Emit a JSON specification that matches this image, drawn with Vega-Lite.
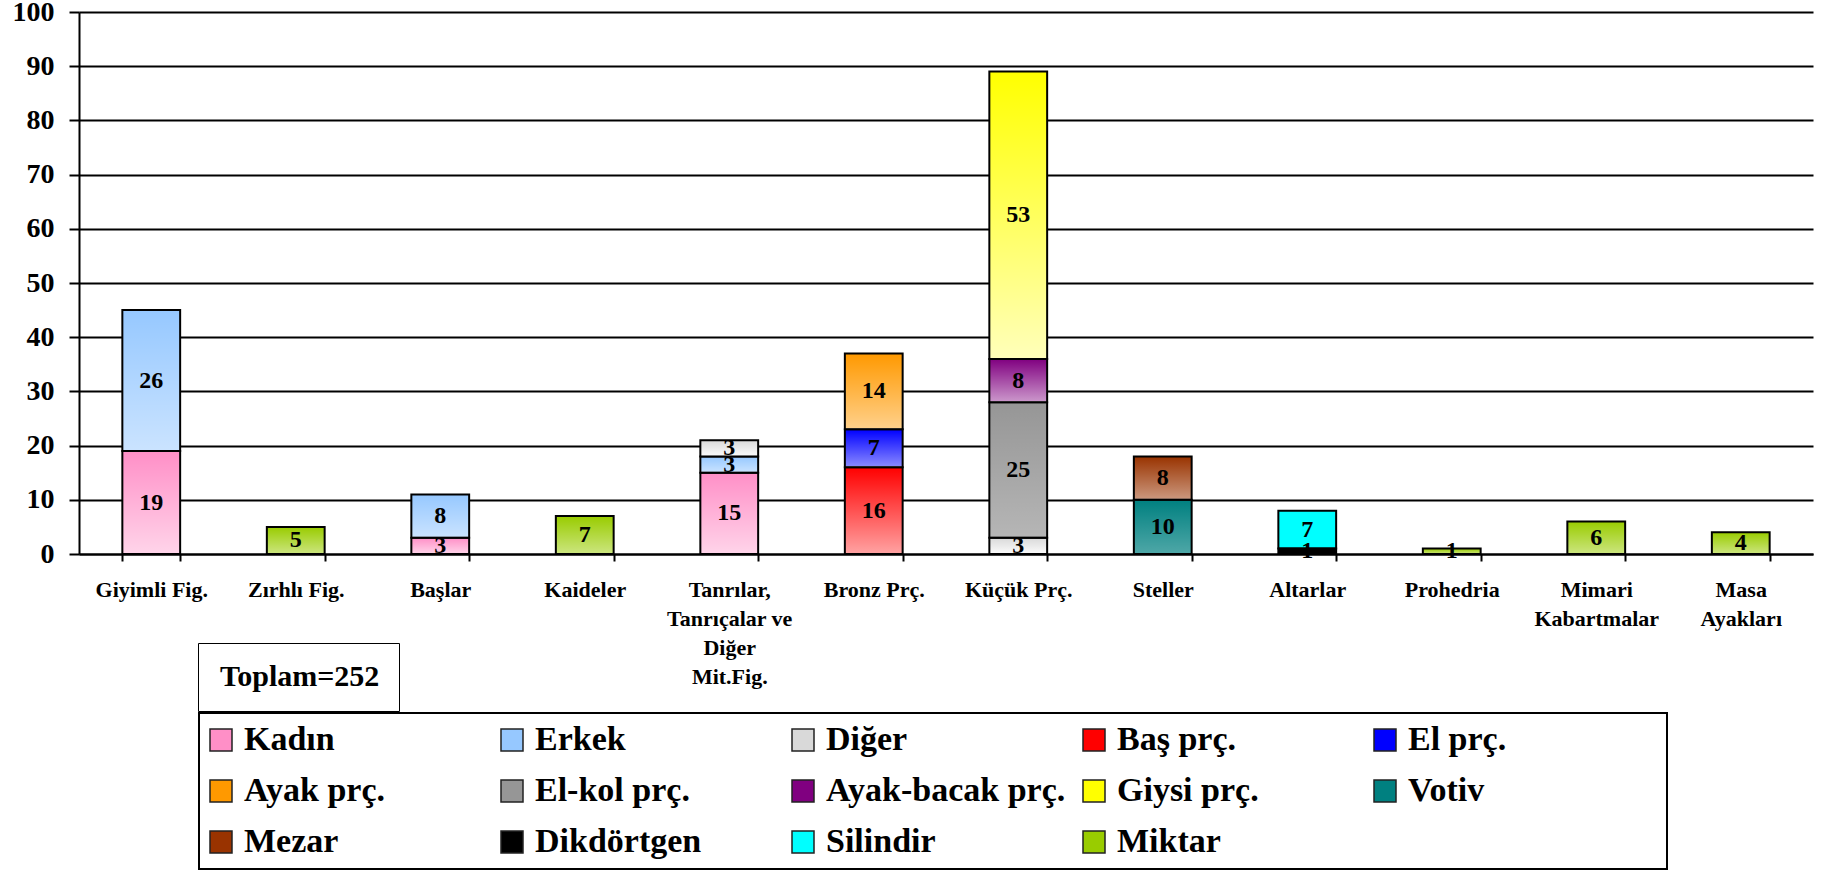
{
  "$schema": "https://vega.github.io/schema/vega-lite/v6.json",
  "width": 1734,
  "height": 542,
  "autosize": {"type": "none"},
  "padding": {"left": 79, "top": 12, "right": 27, "bottom": 318},
  "background": "white",
  "config": {"font": "Liberation Serif", "view": {"stroke": null}},
  "layer": [
    {
      "data": {
        "values": [
          {"cat": "Giyimli Fig.", "seg": "Kadın", "n": 19},
          {"cat": "Giyimli Fig.", "seg": "Erkek", "n": 26},
          {"cat": "Zırhlı Fig.", "seg": "Miktar", "n": 5},
          {"cat": "Başlar", "seg": "Kadın", "n": 3},
          {"cat": "Başlar", "seg": "Erkek", "n": 8},
          {"cat": "Kaideler", "seg": "Miktar", "n": 7},
          {"cat": "Tanrılar, Tanrıçalar ve Diğer Mit.Fig.", "seg": "Kadın", "n": 15},
          {"cat": "Tanrılar, Tanrıçalar ve Diğer Mit.Fig.", "seg": "Erkek", "n": 3},
          {"cat": "Tanrılar, Tanrıçalar ve Diğer Mit.Fig.", "seg": "Diğer", "n": 3},
          {"cat": "Bronz Prç.", "seg": "Baş prç.", "n": 16},
          {"cat": "Bronz Prç.", "seg": "El prç.", "n": 7},
          {"cat": "Bronz Prç.", "seg": "Ayak prç.", "n": 14},
          {"cat": "Küçük Prç.", "seg": "Diğer", "n": 3},
          {"cat": "Küçük Prç.", "seg": "El-kol prç.", "n": 25},
          {"cat": "Küçük Prç.", "seg": "Ayak-bacak prç.", "n": 8},
          {"cat": "Küçük Prç.", "seg": "Giysi prç.", "n": 53},
          {"cat": "Steller", "seg": "Votiv", "n": 10},
          {"cat": "Steller", "seg": "Mezar", "n": 8},
          {"cat": "Altarlar", "seg": "Dikdörtgen", "n": 1},
          {"cat": "Altarlar", "seg": "Silindir", "n": 7},
          {"cat": "Prohedria", "seg": "Miktar", "n": 1},
          {"cat": "Mimari Kabartmalar", "seg": "Miktar", "n": 6},
          {"cat": "Masa Ayakları", "seg": "Miktar", "n": 4}
        ]
      },
      "transform": [
        {"stack": "n", "groupby": ["cat"], "as": ["y0", "y1"]},
        {"calculate": "(datum.y0 + datum.y1) / 2", "as": "mid"}
      ],
      "encoding": {
        "x": {
          "field": "cat",
          "type": "nominal",
          "sort": null,
          "scale": {"paddingInner": 0.6, "paddingOuter": 0.3},
          "axis": {
            "title": null,
            "labelAngle": 0,
            "labelFontSize": 22,
            "labelFontWeight": "bold",
            "labelFont": "Liberation Serif",
            "labelColor": "black",
            "labelLineHeight": 29,
            "labelBaseline": "top",
            "labelPadding": 18,
            "labelLimit": 400,
            "tickBand": "extent",
            "tickSize": 7,
            "tickColor": "black",
            "tickWidth": 2,
            "domainColor": "black",
            "domainWidth": 2,
            "grid": false,
            "labelExpr": "datum.value == 'Tanrılar, Tanrıçalar ve Diğer Mit.Fig.' ? ['Tanrılar,', 'Tanrıçalar ve', 'Diğer', 'Mit.Fig.'] : datum.value == 'Mimari Kabartmalar' ? ['Mimari', 'Kabartmalar'] : datum.value == 'Masa Ayakları' ? ['Masa', 'Ayakları'] : datum.value"
          }
        },
        "y": {
          "field": "y0",
          "type": "quantitative",
          "scale": {"domain": [0, 100], "nice": false},
          "axis": {
            "title": null,
            "values": [0, 10, 20, 30, 40, 50, 60, 70, 80, 90, 100],
            "labelFontSize": 28,
            "labelFontWeight": "bold",
            "labelFont": "Liberation Serif",
            "labelColor": "black",
            "labelPadding": 15,
            "tickSize": 10,
            "tickColor": "black",
            "tickWidth": 2,
            "domainColor": "black",
            "domainWidth": 2,
            "grid": true,
            "gridColor": "black",
            "gridWidth": 2,
            "gridOpacity": 1
          }
        },
        "y2": {"field": "y1"}
      },
      "layer": [
        {
          "mark": {"type": "bar", "strokeWidth": 0},
          "encoding": {
            "color": {
              "field": "seg",
              "type": "nominal",
              "scale": {
                "domain": ["Kadın", "Erkek", "Diğer", "Baş prç.", "El prç.", "Ayak prç.", "El-kol prç.", "Ayak-bacak prç.", "Giysi prç.", "Votiv", "Mezar", "Dikdörtgen", "Silindir", "Miktar"],
                "range": ["#FF8FC7", "#96C8FF", "#D9D9D9", "#FF0000", "#0000FF", "#FF9900", "#969696", "#800080", "#FFFF00", "#008080", "#993300", "#000000", "#00FFFF", "#99CC00"]
              },
              "legend": {
                "title": null,
                "orient": "none",
                "legendX": 120,
                "legendY": 701,
                "columns": 5,
                "direction": "horizontal",
                "gridAlign": "all",
                "symbolType": "square",
                "symbolSize": 484,
                "symbolOffset": -5,
                "symbolStrokeColor": "#222222",
                "symbolStrokeWidth": 1.5,
                "symbolOpacity": 1,
                "labelFontSize": 34,
                "labelFontWeight": "bold",
                "labelFont": "Liberation Serif",
                "labelColor": "black",
                "labelOffset": 6,
                "labelLimit": 600,
                "labelExpr": "datum.label == 'El prç.' ? datum.label + '\u2800\u2800\u2800\u2800\u2800\u2800' : datum.label",
                "columnPadding": 5,
                "rowPadding": 17,
                "padding": 10,
                "strokeColor": "black",
                "fillColor": "white",
                "encode": {"legend": {"update": {"strokeWidth": {"value": 2}}}}
              }
            }
          }
        },
        {
          "mark": {
            "type": "bar",
            "stroke": "black",
            "strokeWidth": 2,
            "fill": {"gradient": "linear", "x1": 0, "y1": 0, "x2": 0, "y2": 1, "stops": [{"offset": 0, "color": "rgba(255,255,255,0)"}, {"offset": 1, "color": "rgba(255,255,255,1)"}]}
          },
          "encoding": {
            "fillOpacity": {
              "field": "seg",
              "type": "nominal",
              "scale": {
                "type": "ordinal",
                "domain": ["Kadın", "Erkek", "Diğer", "Baş prç.", "El prç.", "Ayak prç.", "El-kol prç.", "Ayak-bacak prç.", "Giysi prç.", "Votiv", "Mezar", "Dikdörtgen", "Silindir", "Miktar"],
                "range": [0.62, 0.5, 0.9, 0.64, 0.55, 0.55, 0.3, 0.6, 0.73, 0.31, 0.5, 0, 0, 0.5]
              },
              "legend": null
            }
          }
        },
        {
          "mark": {"type": "text", "fontSize": 24, "fontWeight": "bold", "font": "Liberation Serif", "color": "black"},
          "encoding": {
            "y": {"field": "mid", "type": "quantitative"},
            "y2": null,
            "text": {"field": "n", "type": "quantitative"}
          }
        }
      ]
    },
    {
      "data": {"values": [{"t": "Toplam=252"}]},
      "mark": {"type": "point", "opacity": 0},
      "encoding": {
        "shape": {
          "field": "t",
          "type": "nominal",
          "legend": {
            "title": null,
            "orient": "none",
            "legendX": 119,
            "legendY": 631,
            "symbolSize": 0,
            "symbolOpacity": 0,
            "symbolStrokeWidth": 0,
            "labelOffset": -27,
            "labelFontSize": 30,
            "labelFontWeight": "bold",
            "labelFont": "Liberation Serif",
            "labelColor": "black",
            "padding": 19,
            "strokeColor": "black",
            "fillColor": "white",
            "encode": {"legend": {"update": {"strokeWidth": {"value": 2}}}}
          }
        }
      }
    }
  ]
}
